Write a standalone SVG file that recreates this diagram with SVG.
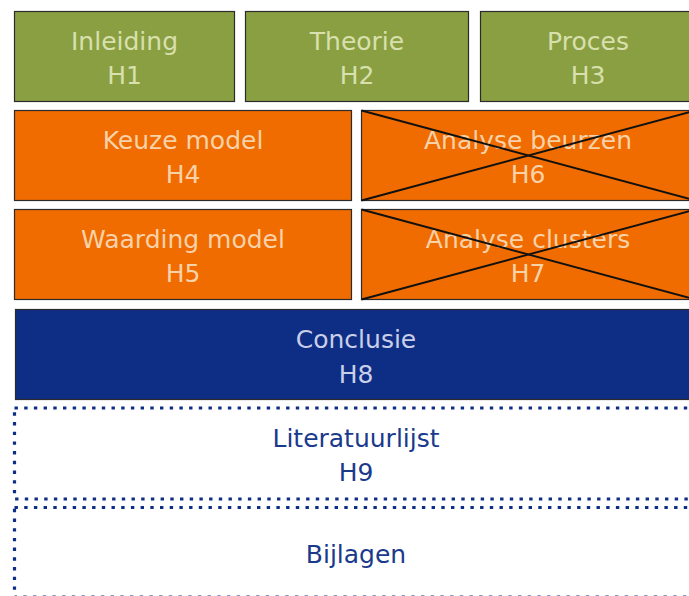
<svg xmlns="http://www.w3.org/2000/svg" width="689" height="596" viewBox="0 0 689 596">
  <style>
    .box { stroke: #2b2b2b; stroke-width: 1.2; }
    .green { fill: #8a9f41; }
    .orange { fill: #f06b00; }
    .blue { fill: #0e2d84; }
    .dotted { fill: #ffffff; stroke: #0e2d84; stroke-width: 3.2; stroke-dasharray: 3.4 6.3; }
    .cross { stroke: #111111; stroke-width: 1.9; }
    text { font-family: "DejaVu Sans", "Liberation Sans", sans-serif; font-size: 25px; text-anchor: middle; }
    .tg { fill: #d8e0ae; }
    .to { fill: #f8d2a8; }
    .tb { fill: #c9cfe8; }
    .td { fill: #1a3a8c; }
  </style>
  <rect width="689" height="596" fill="#ffffff"/>

  <!-- top row -->
  <g id="h1">
    <rect class="box green" x="14.5" y="11.5" width="220" height="90"/>
    <text class="tg" x="124.5" y="50">Inleiding</text>
    <text class="tg" x="124.5" y="84">H1</text>
  </g>
  <g id="h2">
    <rect class="box green" x="245.5" y="11.5" width="223" height="90"/>
    <text class="tg" x="357" y="50">Theorie</text>
    <text class="tg" x="357" y="84">H2</text>
  </g>
  <g id="h3">
    <rect class="box green" x="480.5" y="11.5" width="216" height="90"/>
    <text class="tg" x="588" y="50">Proces</text>
    <text class="tg" x="588" y="84">H3</text>
  </g>

  <!-- middle rows -->
  <g id="h4">
    <rect class="box orange" x="14.5" y="110.5" width="337" height="90"/>
    <text class="to" x="183" y="149">Keuze model</text>
    <text class="to" x="183" y="183">H4</text>
  </g>
  <g id="h6">
    <rect class="box orange" x="361.5" y="110.5" width="334" height="90"/>
    <text class="to" x="528" y="149">Analyse beurzen</text>
    <text class="to" x="528" y="183">H6</text>
    <line class="cross" x1="361.5" y1="110.5" x2="695.5" y2="200.5"/>
    <line class="cross" x1="361.5" y1="200.5" x2="695.5" y2="110.5"/>
  </g>
  <g id="h5">
    <rect class="box orange" x="14.5" y="209.5" width="337" height="90"/>
    <text class="to" x="183" y="248">Waarding model</text>
    <text class="to" x="183" y="282">H5</text>
  </g>
  <g id="h7">
    <rect class="box orange" x="361.5" y="209.5" width="334" height="90"/>
    <text class="to" x="528" y="248">Analyse clusters</text>
    <text class="to" x="528" y="282">H7</text>
    <line class="cross" x1="361.5" y1="209.5" x2="695.5" y2="299.5"/>
    <line class="cross" x1="361.5" y1="299.5" x2="695.5" y2="209.5"/>
  </g>

  <!-- conclusion -->
  <g id="h8">
    <rect class="box blue" x="15.5" y="309.5" width="682" height="90"/>
    <text class="tb" x="356" y="348">Conclusie</text>
    <text class="tb" x="356" y="383">H8</text>
  </g>

  <!-- appendices, dotted outline -->
  <g id="h9">
    <rect class="dotted" x="14.5" y="408" width="684" height="91"/>
    <text class="td" x="356" y="447">Literatuurlijst</text>
    <text class="td" x="356" y="481">H9</text>
  </g>
  <g id="bijlagen">
    <rect class="dotted" x="14.5" y="507.5" width="684" height="89.5"/>
    <text class="td" x="356" y="563">Bijlagen</text>
  </g>

  <g id="connectors"/>
</svg>
